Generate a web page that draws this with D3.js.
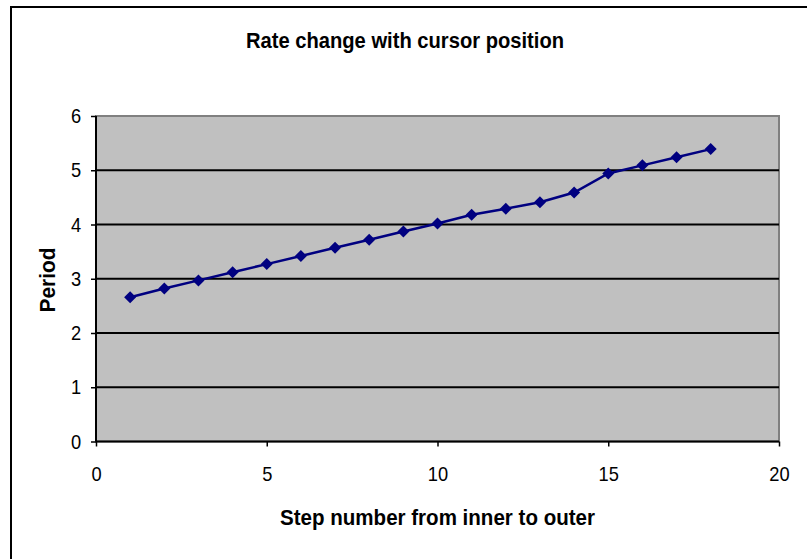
<!DOCTYPE html>
<html>
<head>
<meta charset="utf-8">
<script src="https://cdn.jsdelivr.net/npm/d3@7"></script>
<style>
  body { margin: 0; background: #fff; }
  text { font-family: "Liberation Sans", Arial, sans-serif; fill: #000; }
  .tick text { transform-box: fill-box; transform-origin: center; transform: scaleX(0.87); }
</style>
</head>
<body>
<svg id="chart" width="807" height="559"></svg>
<script>
const steps = [1, 2, 3, 4, 5, 6, 7, 8, 9, 10, 11, 12, 13, 14, 15, 16, 17, 18]
const periods = [2.66, 2.82, 2.97, 3.12, 3.27, 3.42, 3.57, 3.72, 3.87, 4.02,
  4.18, 4.29, 4.41, 4.59, 4.94, 5.09, 5.24, 5.39]
const xTicks = [0, 5, 10, 15, 20]
const yTicks = [0, 1, 2, 3, 4, 5, 6]

const data = steps.map((s, i) => ({step: s, period: periods[i]}))

const svg = d3.select('#chart')
const plotLeft = 96, plotRight = 779, plotTop = 116, plotBottom = 441.5

const x = d3.scaleLinear().domain([0, 20]).range([plotLeft, plotRight])
const y = d3.scaleLinear().domain([0, 6]).range([plotBottom, plotTop])

// outer chart border
svg.append('rect')
  .attr('x', 11).attr('y', 7)
  .attr('width', 820).attr('height', 580)
  .attr('fill', 'none').attr('stroke', '#000').attr('stroke-width', 2)

// plot area
svg.append('rect')
  .attr('x', plotLeft).attr('y', plotTop)
  .attr('width', plotRight - plotLeft).attr('height', plotBottom - plotTop)
  .attr('fill', '#c0c0c0').attr('stroke', '#808080').attr('stroke-width', 2)

// gridlines
svg.append('g')
  .selectAll('line')
  .data(yTicks.filter((d) => d > 0 && d < 6))
  .join('line')
  .attr('x1', plotLeft).attr('x2', plotRight)
  .attr('y1', (d) => y(d)).attr('y2', (d) => y(d))
  .attr('stroke', '#000').attr('stroke-width', 2)

const yAxis = svg.append('g')
  .attr('transform', `translate(${plotLeft},0)`)
  .call(d3.axisLeft(y).tickValues(yTicks).tickFormat(d3.format('d'))
    .tickSize(5).tickPadding(9))
const xAxis = svg.append('g')
  .attr('transform', `translate(0,${plotBottom})`)
  .call(d3.axisBottom(x).tickValues(xTicks).tickFormat(d3.format('d'))
    .tickSize(5).tickPadding(20))

for (const ax of [xAxis, yAxis]) {
  ax.select('.domain').attr('stroke', '#000').attr('stroke-width', 2)
  ax.selectAll('.tick line').attr('stroke', '#000').attr('stroke-width', 1.5)
  ax.selectAll('.tick text')
    .attr('font-size', 21)
    .attr('font-family', '"Liberation Sans", Arial, sans-serif')
    .attr('fill', '#000')
}
xAxis.select('.domain').attr('d', `M${plotLeft},0H${plotRight}`)
yAxis.select('.domain').attr('d', `M0,${plotTop}V${plotBottom}`)

// series line
const line = d3.line().x((d) => x(d.step)).y((d) => y(d.period))
svg.append('path')
  .datum(data)
  .attr('d', line)
  .attr('fill', 'none')
  .attr('stroke', '#000080')
  .attr('stroke-width', 2.5)

svg.append('g')
  .selectAll('path')
  .data(data)
  .join('path')
  .attr('d', d3.symbol(d3.symbolSquare, 72))
  .attr('transform', (d) => `translate(${x(d.step)},${y(d.period)}) rotate(45)`)
  .attr('fill', '#000080')

// titles
svg.append('text')
  .attr('x', 405).attr('y', 48)
  .attr('text-anchor', 'middle')
  .attr('font-size', 22).attr('font-weight', 'bold')
  .attr('textLength', 318).attr('lengthAdjust', 'spacingAndGlyphs')
  .text('Rate change with cursor position')

svg.append('text')
  .attr('x', (plotLeft + plotRight) / 2).attr('y', 525)
  .attr('text-anchor', 'middle')
  .attr('font-size', 22).attr('font-weight', 'bold')
  .attr('textLength', 315).attr('lengthAdjust', 'spacingAndGlyphs')
  .text('Step number from inner to outer')

svg.append('text')
  .attr('transform', `translate(55,280) rotate(-90)`)
  .attr('text-anchor', 'middle')
  .attr('font-size', 22).attr('font-weight', 'bold')
  .attr('textLength', 65).attr('lengthAdjust', 'spacingAndGlyphs')
  .text('Period')
</script>
</body>
</html>
